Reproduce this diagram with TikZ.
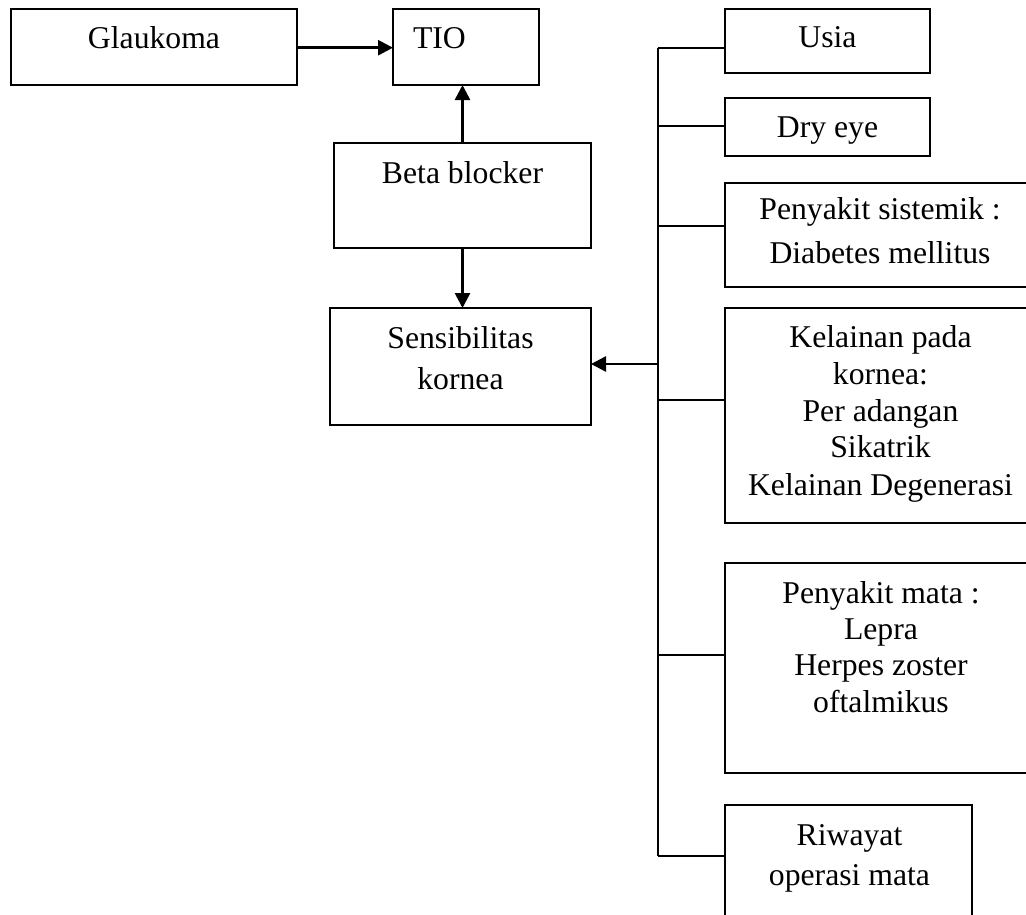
\documentclass[tikz,border=0pt]{standalone}
\usepackage{fontspec}
\setmainfont{Liberation Serif}
\usetikzlibrary{arrows.meta}
\begin{document}
\begin{tikzpicture}[x=1pt,y=-1pt,
  box/.style={draw=black,line width=1.9pt,inner sep=0pt,outer sep=0pt,rectangle},
  txt/.style={inner sep=0pt,outer sep=0pt,anchor=base,font=\fontsize{31.7}{37}\selectfont},
  txtw/.style={txt,anchor=base west},
  conn/.style={line width=2pt},
  arr/.style={line width=2.6pt,-{Triangle[length=15pt,width=15pt]}}]
\useasboundingbox (0,0) rectangle (1026,914);
\clip (0,0) rectangle (1026,914);
% boxes
\node[box,minimum width=286pt,minimum height=76pt] (glau) at (154,47) {};
\node[box,minimum width=146pt,minimum height=76pt] (tio) at (466,47) {};
\node[box,minimum width=257pt,minimum height=105pt] (beta) at (462.5,195.5) {};
\node[box,minimum width=261pt,minimum height=117pt] (sens) at (460.5,366.5) {};
\node[box,minimum width=205pt,minimum height=64pt] (usia) at (827.5,41) {};
\node[box,minimum width=205pt,minimum height=58pt] (dry) at (827.5,127) {};
\node[box,minimum width=312pt,minimum height=104pt] (sist) at (881,235) {};
\node[box,minimum width=312pt,minimum height=215pt] (kel) at (881,415.5) {};
\node[box,minimum width=312pt,minimum height=210pt] (mata) at (881,668) {};
\node[box,minimum width=247pt,minimum height=145pt] (riw) at (848.5,877.5) {};
% texts
\node[txt] (tglau) at (154,48) {Glaukoma};
\node[txtw] (ttio) at (413,48) {TIO};
\node[txt] (tbeta) at (462.5,183) {Beta blocker};
\node[txt] (tsens1) at (460.5,348) {Sensibilitas};
\node[txt] (tsens2) at (460.5,389) {kornea};
\node[txt] (tusia) at (827.5,47) {Usia};
\node[txt] (tdry) at (827.5,137) {Dry eye};
\node[txt] (tsist1) at (880,219) {Penyakit sistemik :};
\node[txt] (tsist2) at (880,263) {Diabetes mellitus};
\node[txt] (tkel1) at (880.5,347) {Kelainan pada};
\node[txt] (tkel2) at (880.5,384) {kornea:};
\node[txt] (tkel3) at (880.5,421) {Per adangan};
\node[txt] (tkel4) at (880.5,457) {Sikatrik};
\node[txt] (tkel5) at (880.5,495) {Kelainan Degenerasi};
\node[txt] (tmata1) at (881,603) {Penyakit mata :};
\node[txt] (tmata2) at (881,639) {Lepra};
\node[txt] (tmata3) at (881,675) {Herpes zoster};
\node[txt] (tmata4) at (881,712) {oftalmikus};
\node[txt] (triw1) at (849.5,845) {Riwayat};
\node[txt] (triw2) at (849.5,885) {operasi mata};
% spine coordinates
\coordinate (b1) at (657.7,47.7);
\coordinate (b2) at (657.7,126.3);
\coordinate (b3) at (657.7,226);
\coordinate (jn) at (657.7,364);
\coordinate (b4) at (657.7,400);
\coordinate (b5) at (657.7,655);
\coordinate (b6) at (657.7,856);
% connectors
\draw[arr] (glau.east |- 0,47.7) -- (tio.west |- 0,47.7);
\draw[arr] (beta.north) -- (beta.north |- tio.south);
\draw[arr] (beta.south) -- (beta.south |- sens.north);
\draw[conn] (b1) -- (b6);
\draw[conn] (b1) -- (b1 -| usia.west);
\draw[conn] (b2) -- (b2 -| dry.west);
\draw[conn] (b3) -- (b3 -| sist.west);
\draw[conn] (b4) -- (b4 -| kel.west);
\draw[conn] (b5) -- (b5 -| mata.west);
\draw[conn] (b6) -- (b6 -| riw.west);
\draw[arr] (jn) -- (jn -| sens.east);
\end{tikzpicture}
\end{document}
